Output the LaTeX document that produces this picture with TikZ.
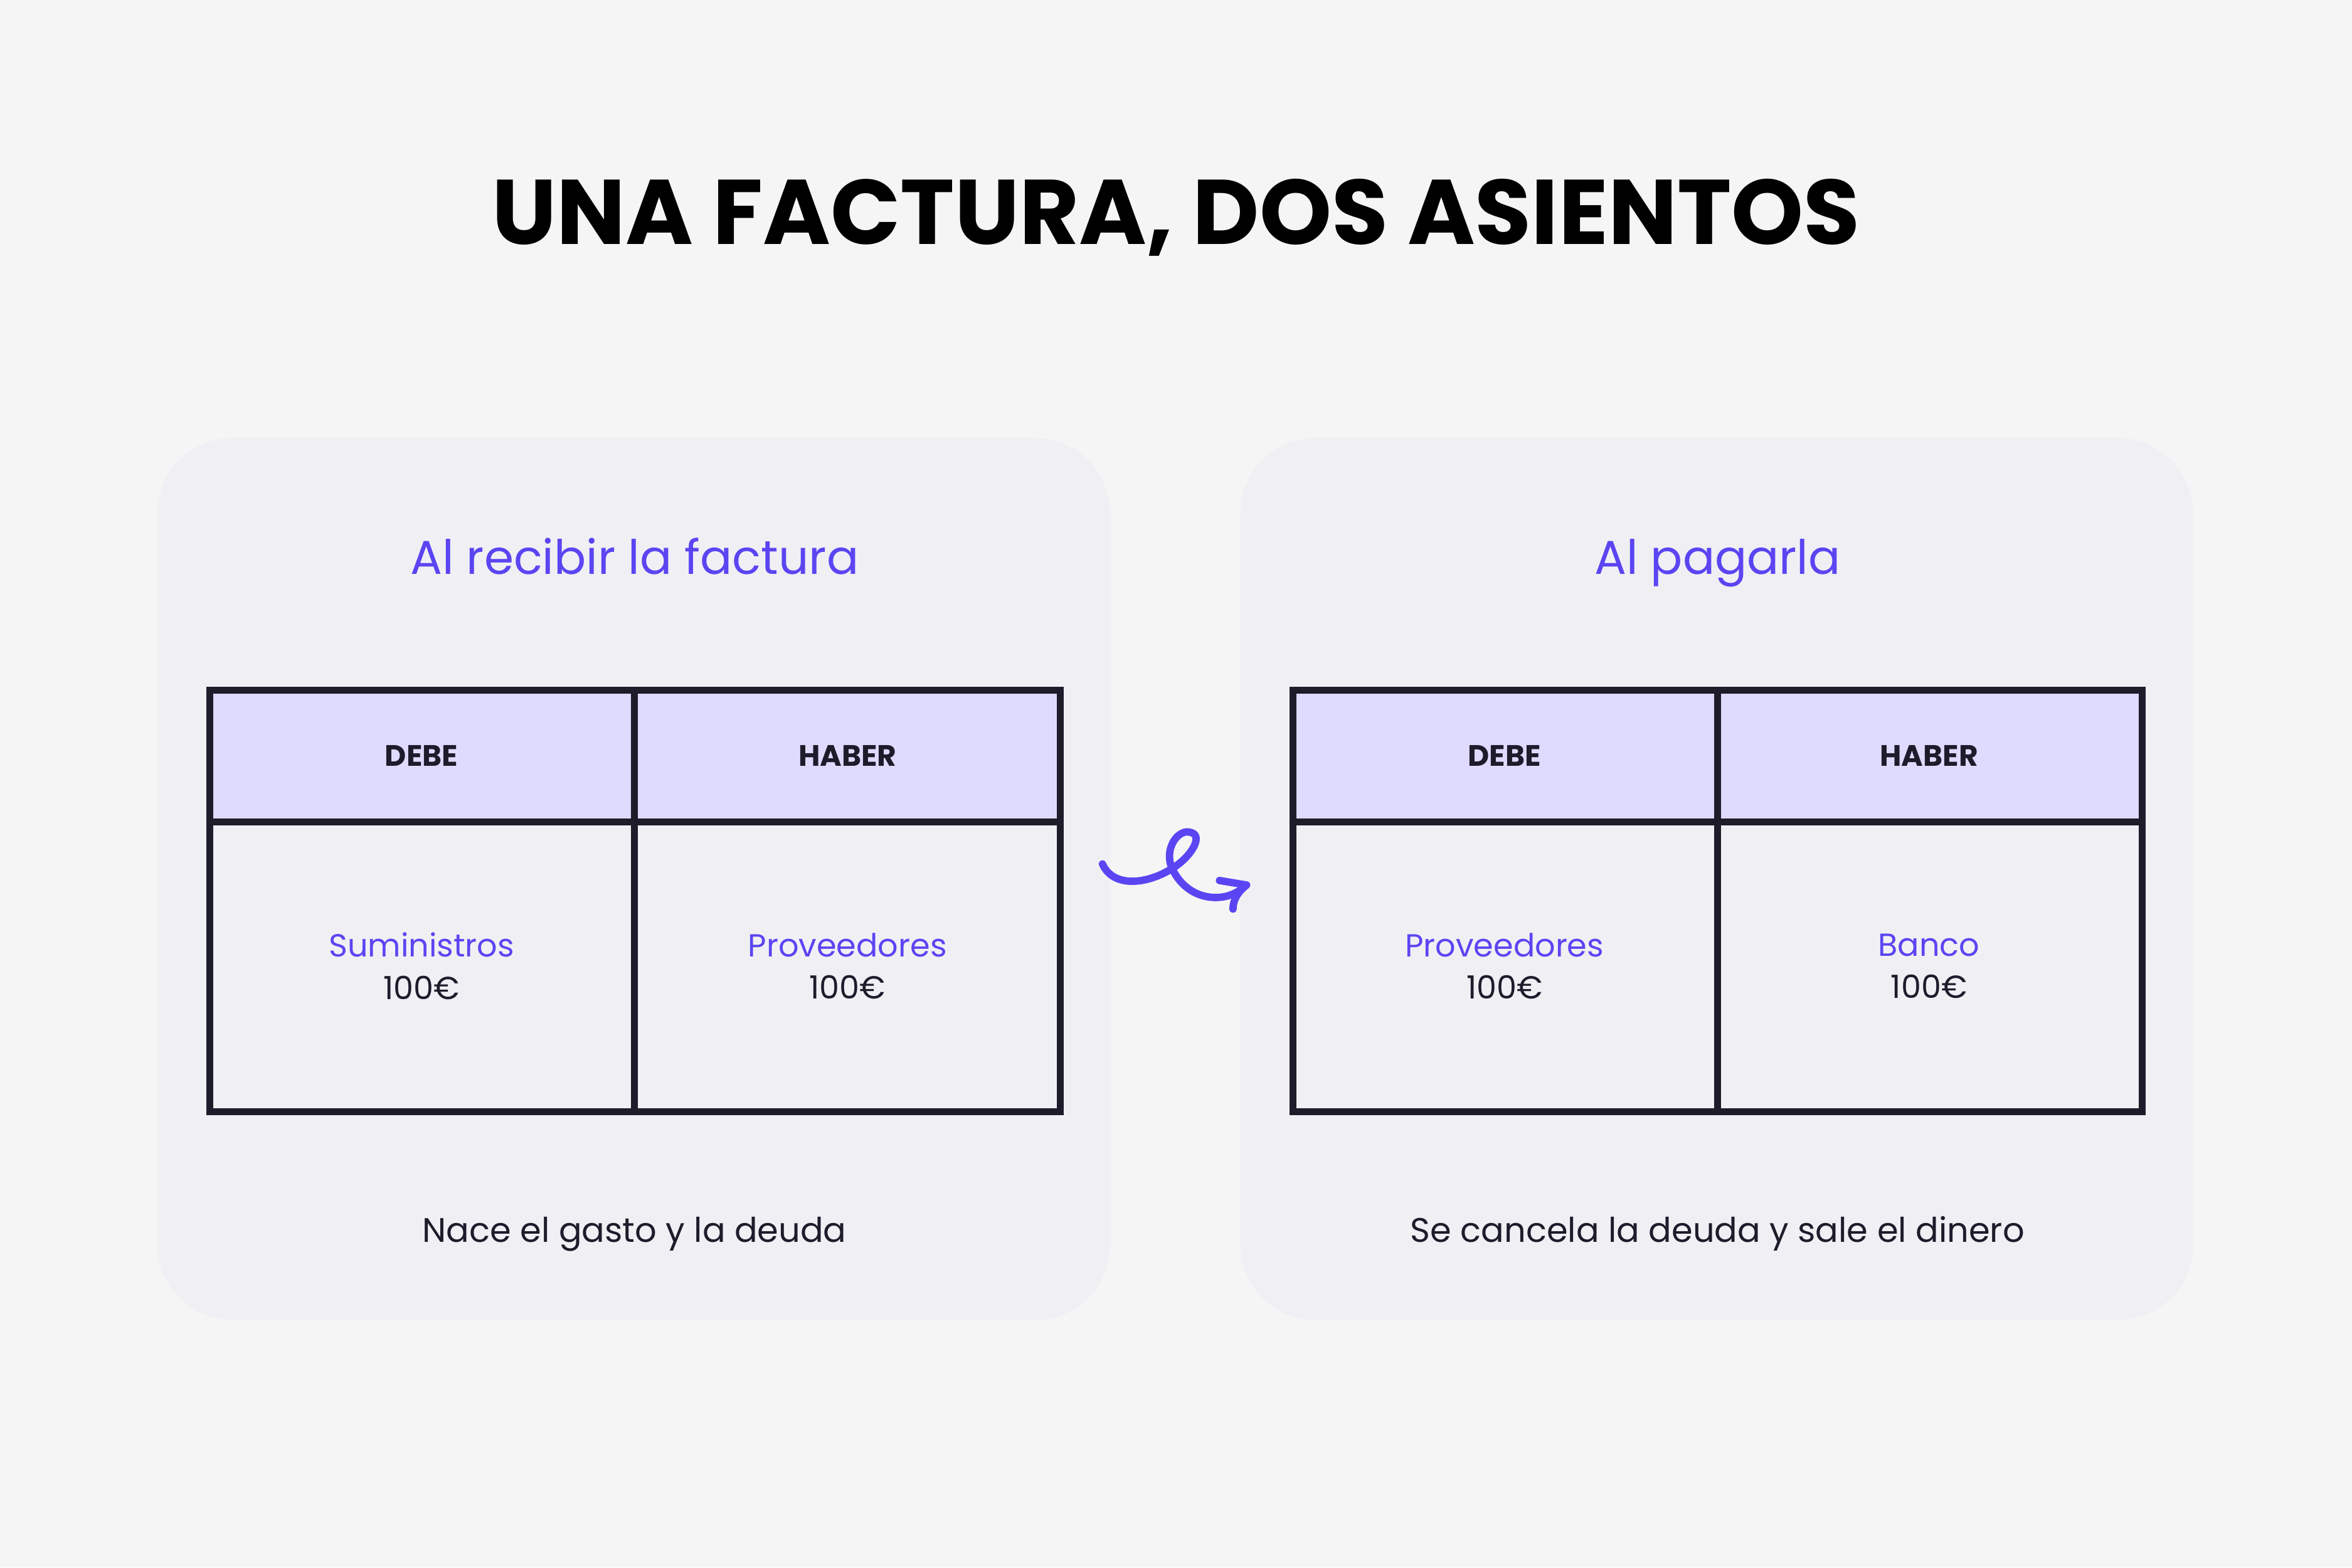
\documentclass[tikz,border=0pt]{standalone}
\usepackage{fontspec}
\setmainfont{Poppins}
\definecolor{bgcol}{HTML}{F5F5F5}
\definecolor{panelcol}{HTML}{F0F0F4}
\definecolor{headcol}{HTML}{DFDBFF}
\definecolor{violet}{HTML}{5B45F2}
\definecolor{ink}{HTML}{1E1B2B}
\tikzset{
	panel/.style={fill=panelcol,draw=none,rounded corners=0.5cm},
	cell/.style={draw=ink,line width=1.3pt},
	head/.style={font=\fontsize{5.6pt}{7pt}\selectfont\bfseries,text=ink},
	account/.style={align=center,font=\fontsize{6.05pt}{8pt}\selectfont,text=ink},
	subtitle/.style={anchor=base,font=\fontsize{9pt}{11pt}\selectfont,text=violet},
	caption/.style={anchor=base,font=\fontsize{6.45pt}{9pt}\selectfont,text=ink}
}
\begin{document}
\begin{tikzpicture}[x=0.01cm,y=-0.01cm]
	\fill[bgcol](0,0) rectangle (1568,1045);
	\useasboundingbox (0,0) rectangle (1568,1045);

	\node[anchor=base,font=\fontsize{17.4pt}{20pt}\selectfont\bfseries] (title) at (784,163) {UNA FACTURA, DOS ASIENTOS};

	% left panel
	\fill[panel](105,292) rectangle (740,880);
	\node[subtitle] (subL) at (423,383) {Al recibir la factura};
	\fill[headcol](140,460) rectangle (707,548);
	\draw[cell](140,460) rectangle (707,741);
	\draw[cell](140,548) -- (707,548);
	\draw[cell](423,460) -- (423,741);
	\node[head] (debeL) at (281,504) {DEBE};
	\node[head] (haberL) at (565,504) {HABER};
	\node[account] (sumL) at (281,644) {\textcolor{violet}{Suministros}\\100€};
	\node[account] (provL) at (565,644) {\textcolor{violet}{Proveedores}\\100€};
	\node[caption] (capL) at (423,828) {Nace el gasto y la deuda};

	% right panel
	\fill[panel](827,292) rectangle (1462,880);
	\node[subtitle] (subR) at (1145,383) {Al pagarla};
	\fill[headcol](862,460) rectangle (1428,548);
	\draw[cell](862,460) rectangle (1428,741);
	\draw[cell](862,548) -- (1428,548);
	\draw[cell](1145,460) -- (1145,741);
	\node[head] (debeR) at (1003,504) {DEBE};
	\node[head] (haberR) at (1286,504) {HABER};
	\node[account] (provR) at (1003,644) {\textcolor{violet}{Proveedores}\\100€};
	\node[account] (bancoR) at (1286,644) {\textcolor{violet}{Banco}\\100€};
	\node[caption] (capR) at (1145,828) {Se cancela la deuda y sale el dinero};

	% squiggle arrow
	\coordinate (from) at (735,576);
	\coordinate (to) at (831,590);
	\draw[violet,line width=1.4pt,line cap=round,line join=round]
		(from) .. controls (742,592) and (765,590) .. (783,578)
		.. controls (795,570) and (802,557) .. (794,555)
		.. controls (786,552) and (776,565) .. (781,578)
		.. controls (787,592) and (800,600) .. (815,598)
		.. controls (822,597) and (828,593) .. (to);
	\draw[violet,line width=1.4pt,line cap=round,line join=round]
		(813,587) -- (to) .. controls (825,595) and (822,600) .. (822,606);
\end{tikzpicture}
\end{document}
